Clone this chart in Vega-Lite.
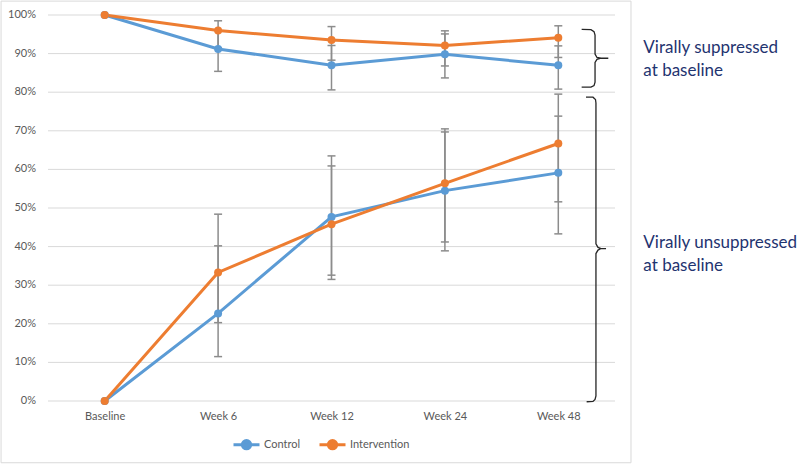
{
  "$schema": "https://vega.github.io/schema/vega-lite/v6.json",
  "width": 567,
  "height": 386,
  "autosize": {"type": "none"},
  "padding": {"left": 48, "top": 15, "right": 185, "bottom": 63},
  "background": "white",
  "config": {
    "view": {"stroke": null},
    "font": "Lato",
    "axisX": {"domain": false, "ticks": false, "tickSize": 0, "grid": false, "labelColor": "#595959", "labelFontSize": 11, "labelPadding": 9, "labelAngle": 0, "labelFont": "Lato", "labelOverlap": false}
  },
  "datasets": {
    "series": [
      {"t": "Baseline", "i": 0, "s": "Control", "g": "top", "v": 100},
      {"t": "Week 6", "i": 1, "s": "Control", "g": "top", "v": 91.2, "lo": 85.4, "hi": 96.0},
      {"t": "Week 12", "i": 2, "s": "Control", "g": "top", "v": 87.0, "lo": 80.6, "hi": 92.1},
      {"t": "Week 24", "i": 3, "s": "Control", "g": "top", "v": 89.8, "lo": 83.7, "hi": 95.9},
      {"t": "Week 48", "i": 4, "s": "Control", "g": "top", "v": 87.0, "lo": 80.8, "hi": 92.0},
      {"t": "Baseline", "i": 0, "s": "Control", "g": "bottom", "v": 0},
      {"t": "Week 6", "i": 1, "s": "Control", "g": "bottom", "v": 22.7, "lo": 11.5, "hi": 40.2},
      {"t": "Week 12", "i": 2, "s": "Control", "g": "bottom", "v": 47.7, "lo": 31.5, "hi": 63.5},
      {"t": "Week 24", "i": 3, "s": "Control", "g": "bottom", "v": 54.5, "lo": 38.9, "hi": 69.7},
      {"t": "Week 48", "i": 4, "s": "Control", "g": "bottom", "v": 59.1, "lo": 43.3, "hi": 73.8},
      {"t": "Baseline", "i": 0, "s": "Intervention", "g": "top", "v": 100},
      {"t": "Week 6", "i": 1, "s": "Intervention", "g": "top", "v": 96.0, "lo": 91.5, "hi": 98.5},
      {"t": "Week 12", "i": 2, "s": "Intervention", "g": "top", "v": 93.5, "lo": 88.3, "hi": 97.0},
      {"t": "Week 24", "i": 3, "s": "Intervention", "g": "top", "v": 92.1, "lo": 86.8, "hi": 95.1},
      {"t": "Week 48", "i": 4, "s": "Intervention", "g": "top", "v": 94.1, "lo": 89.0, "hi": 97.2},
      {"t": "Baseline", "i": 0, "s": "Intervention", "g": "bottom", "v": 0},
      {"t": "Week 6", "i": 1, "s": "Intervention", "g": "bottom", "v": 33.3, "lo": 20.3, "hi": 48.4},
      {"t": "Week 12", "i": 2, "s": "Intervention", "g": "bottom", "v": 45.8, "lo": 32.6, "hi": 60.9},
      {"t": "Week 24", "i": 3, "s": "Intervention", "g": "bottom", "v": 56.4, "lo": 41.2, "hi": 70.5},
      {"t": "Week 48", "i": 4, "s": "Intervention", "g": "bottom", "v": 66.7, "lo": 51.6, "hi": 79.5}
    ],
    "grid": [
      {"gv": 0, "lab": "0%", "x0": -0.5, "x1": 4.5},
      {"gv": 10, "lab": "10%", "x0": -0.5, "x1": 4.5},
      {"gv": 20, "lab": "20%", "x0": -0.5, "x1": 4.5},
      {"gv": 30, "lab": "30%", "x0": -0.5, "x1": 4.5},
      {"gv": 40, "lab": "40%", "x0": -0.5, "x1": 4.5},
      {"gv": 50, "lab": "50%", "x0": -0.5, "x1": 4.5},
      {"gv": 60, "lab": "60%", "x0": -0.5, "x1": 4.5},
      {"gv": 70, "lab": "70%", "x0": -0.5, "x1": 4.5},
      {"gv": 80, "lab": "80%", "x0": -0.5, "x1": 4.5},
      {"gv": 90, "lab": "90%", "x0": -0.5, "x1": 4.5},
      {"gv": 100, "lab": "100%", "x0": -0.5, "x1": 4.5}
    ],
    "brace": [
      {"b": "top", "o": 0, "ax": 4.206, "v": 96.3},
      {"b": "top", "o": 1, "ax": 4.288, "v": 96.2},
      {"b": "top", "o": 2, "ax": 4.315, "v": 95.7},
      {"b": "top", "o": 3, "ax": 4.324, "v": 94.8},
      {"b": "top", "o": 4, "ax": 4.324, "v": 89.9},
      {"b": "top", "o": 5, "ax": 4.341, "v": 89.0},
      {"b": "top", "o": 6, "ax": 4.377, "v": 88.8},
      {"b": "top", "o": 7, "ax": 4.441, "v": 88.8},
      {"b": "top", "o": 8, "ax": 4.377, "v": 88.8},
      {"b": "top", "o": 9, "ax": 4.341, "v": 88.5},
      {"b": "top", "o": 10, "ax": 4.324, "v": 87.7},
      {"b": "top", "o": 11, "ax": 4.324, "v": 82.6},
      {"b": "top", "o": 12, "ax": 4.315, "v": 81.7},
      {"b": "top", "o": 13, "ax": 4.288, "v": 81.3},
      {"b": "top", "o": 14, "ax": 4.206, "v": 81.3},
      {"b": "bottom", "o": 0, "ax": 4.244, "v": 78.7},
      {"b": "bottom", "o": 1, "ax": 4.306, "v": 78.7},
      {"b": "bottom", "o": 2, "ax": 4.328, "v": 78.1},
      {"b": "bottom", "o": 3, "ax": 4.332, "v": 77.2},
      {"b": "bottom", "o": 4, "ax": 4.332, "v": 40.7},
      {"b": "bottom", "o": 5, "ax": 4.350, "v": 39.8},
      {"b": "bottom", "o": 6, "ax": 4.377, "v": 39.5},
      {"b": "bottom", "o": 7, "ax": 4.421, "v": 39.5},
      {"b": "bottom", "o": 8, "ax": 4.377, "v": 39.5},
      {"b": "bottom", "o": 9, "ax": 4.350, "v": 39.1},
      {"b": "bottom", "o": 10, "ax": 4.332, "v": 38.2},
      {"b": "bottom", "o": 11, "ax": 4.332, "v": 1.3},
      {"b": "bottom", "o": 12, "ax": 4.324, "v": 0.4},
      {"b": "bottom", "o": 13, "ax": 4.306, "v": -0.1},
      {"b": "bottom", "o": 14, "ax": 4.250, "v": -0.2}
    ],
    "notes": [
      {"ax": 4.75, "v": 90.1, "txt": "Virally suppressed"},
      {"ax": 4.75, "v": 84.2, "txt": "at baseline"},
      {"ax": 4.75, "v": 39.6, "txt": "Virally unsuppressed"},
      {"ax": 4.75, "v": 33.8, "txt": "at baseline"}
    ],
    "frame": [
      {"ax": -0.914, "ax2": 4.641, "v": 103.6, "v2": -16.0}
    ]
  },
  "layer": [
    {
      "data": {"name": "grid"},
      "mark": {"type": "rule", "color": "#d9d9d9", "strokeWidth": 1},
      "encoding": {
        "x": {"field": "x0", "type": "quantitative", "title": null, "scale": {"domain": [-0.5, 4.5], "nice": false, "zero": false}, "axis": {"values": [0, 1, 2, 3, 4], "labelExpr": "['Baseline','Week 6','Week 12','Week 24','Week 48'][datum.value]"}},
        "x2": {"field": "x1"},
        "y": {"field": "gv", "type": "quantitative", "title": null, "scale": {"domain": [0, 100], "nice": false, "zero": false}, "axis": null}
      }
    },
    {
      "data": {"name": "grid"},
      "mark": {"type": "text", "align": "right", "baseline": "middle", "dx": -12, "fontSize": 11, "font": "Lato", "color": "#595959"},
      "encoding": {
        "x": {"field": "x0", "type": "quantitative"},
        "y": {"field": "gv", "type": "quantitative"},
        "text": {"field": "lab"}
      }
    },
    {
      "data": {"name": "frame"},
      "mark": {"type": "rect", "fill": null, "fillOpacity": 0, "stroke": "#d9d9d9", "strokeWidth": 1},
      "encoding": {
        "x": {"field": "ax", "type": "quantitative"},
        "x2": {"field": "ax2"},
        "y": {"field": "v", "type": "quantitative"},
        "y2": {"field": "v2"}
      }
    },
    {
      "data": {"name": "series"},
      "transform": [{"filter": "isValid(datum.lo)"}],
      "mark": {"type": "rule", "color": "#8c8c8c", "strokeWidth": 1.5},
      "encoding": {
        "x": {"field": "i", "type": "quantitative"},
        "y": {"field": "lo", "type": "quantitative"},
        "y2": {"field": "hi"}
      }
    },
    {
      "data": {"name": "series"},
      "transform": [{"filter": "isValid(datum.lo)"}, {"fold": ["lo", "hi"], "as": ["k", "e"]}],
      "mark": {"type": "tick", "color": "#8c8c8c", "thickness": 1.5, "size": 8, "orient": "horizontal", "opacity": 1},
      "encoding": {
        "x": {"field": "i", "type": "quantitative"},
        "y": {"field": "e", "type": "quantitative"}
      }
    },
    {
      "data": {"name": "series"},
      "mark": {"type": "line", "strokeWidth": 3},
      "encoding": {
        "x": {"field": "i", "type": "quantitative"},
        "y": {"field": "v", "type": "quantitative"},
        "color": {
          "field": "s", "type": "nominal",
          "scale": {"domain": ["Control", "Intervention"], "range": ["#5B9BD5", "#ED7D31"]},
          "legend": {
            "title": null, "orient": "none", "direction": "horizontal", "legendX": 184, "legendY": 415,
            "symbolType": "M-1,0H1M0.32,0A0.32,0.32 0 1,1 -0.32,0A0.32,0.32 0 1,1 0.32,0",
            "symbolSize": 676, "symbolStrokeWidth": 3, "labelOffset": 3, "columnPadding": 12,
            "labelFontSize": 11, "labelColor": "#595959", "labelFont": "Lato",
            "encode": {"symbols": {"update": {"fill": {"scale": "color", "field": "value"}, "stroke": {"scale": "color", "field": "value"}, "opacity": {"value": 1}}}}
          }
        },
        "detail": {"field": "g"},
        "order": {"field": "i"}
      }
    },
    {
      "data": {"name": "series"},
      "mark": {"type": "point", "filled": true, "size": 64, "opacity": 1},
      "encoding": {
        "x": {"field": "i", "type": "quantitative"},
        "y": {"field": "v", "type": "quantitative"},
        "color": {"field": "s", "type": "nominal"}
      }
    },
    {
      "data": {"name": "brace"},
      "mark": {"type": "line", "stroke": "#262626", "strokeWidth": 1.3},
      "encoding": {
        "x": {"field": "ax", "type": "quantitative"},
        "y": {"field": "v", "type": "quantitative"},
        "detail": {"field": "b"},
        "order": {"field": "o"}
      }
    },
    {
      "data": {"name": "notes"},
      "mark": {"type": "text", "align": "left", "baseline": "alphabetic", "fontSize": 17, "font": "Lato", "color": "#1F3470"},
      "encoding": {
        "x": {"field": "ax", "type": "quantitative"},
        "y": {"field": "v", "type": "quantitative"},
        "text": {"field": "txt"}
      }
    }
  ]
}
